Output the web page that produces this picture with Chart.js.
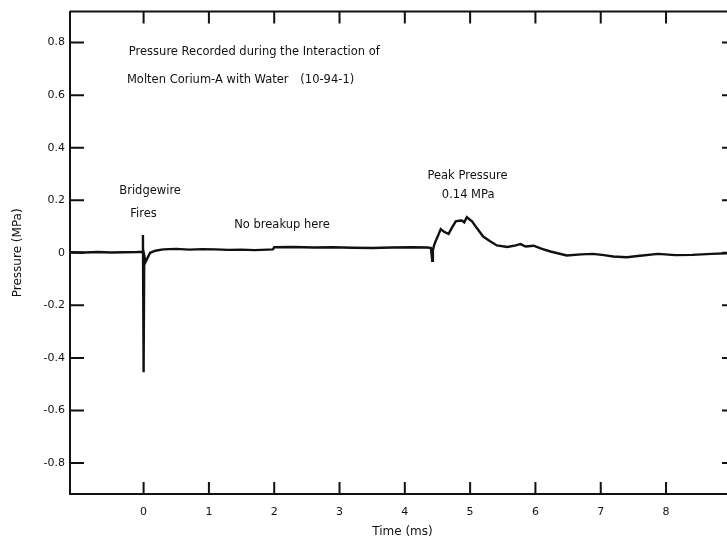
<!DOCTYPE html>
<html>
<head>
<meta charset="utf-8">
<script src="https://cdn.jsdelivr.net/npm/chart.js@4.4.1/dist/chart.umd.min.js"></script>
<style>
  html, body { margin: 0; padding: 0; background: #fff; }
  #wrap { width: 727px; height: 538px; overflow: hidden; }
</style>
</head>
<body>
<div id="wrap"><canvas id="pressureChart" width="740" height="538"></canvas></div>
<script>
/* ============================
   PRESSURE TRACE (10-94-1)
============================ */

/* ---------- DATA ---------- */

const timeMs = [
  -1.13, -0.9, -0.7, -0.5, -0.3, -0.1, -0.02, -0.01, 0.0, 0.01, 0.03, 0.06, 0.1, 0.18,
  0.3, 0.5, 0.7, 0.9, 1.1, 1.3, 1.5, 1.7, 1.9, 1.98, 2.0, 2.3, 2.6, 2.9, 3.2, 3.5,
  3.8, 4.1, 4.35, 4.4, 4.42, 4.43, 4.45, 4.47, 4.5, 4.55, 4.6, 4.67, 4.72, 4.78,
  4.85, 4.88, 4.91, 4.95, 5.0, 5.03, 5.1, 5.2, 5.3, 5.41, 5.57, 5.7, 5.77, 5.85,
  5.97, 6.1, 6.23, 6.48, 6.7, 6.88, 7.05, 7.19, 7.4, 7.6, 7.88, 8.14, 8.4, 8.7, 9.06,
];

const pressureMPa = [
  0.002, 0.001, 0.003, 0.001, 0.002, 0.003, 0.004, 0.068, -0.455, -0.01, -0.035, -0.02, 0.0, 0.008,
  0.013, 0.015, 0.012, 0.014, 0.013, 0.011, 0.012, 0.01, 0.012, 0.013, 0.021, 0.022, 0.02, 0.021, 0.019, 0.018,
  0.02, 0.021, 0.02, 0.018, -0.03, 0.01, 0.03, 0.043, 0.06, 0.09, 0.08, 0.072, 0.095, 0.12,
  0.123, 0.122, 0.116, 0.136, 0.125, 0.12, 0.095, 0.062, 0.045, 0.028, 0.022, 0.028, 0.033, 0.024,
  0.027, 0.015, 0.005, -0.01, -0.006, -0.004, -0.009, -0.014, -0.017, -0.011, -0.004, -0.009, -0.008, -0.004, -0.001,
];

const xTicks = [0, 1, 2, 3, 4, 5, 6, 7, 8];
const yTicks = [-0.8, -0.6, -0.4, -0.2, 0, 0.2, 0.4, 0.6, 0.8];

const notes = [
  { text: "Pressure Recorded during the Interaction of", x: -0.226, y: 0.763, align: "left" },
  { text: "Molten Corium-A with Water", x: -0.255, y: 0.659, align: "left" },
  { text: "(10-94-1)", x: 2.4, y: 0.659, align: "left" },
  { text: "Bridgewire", x: 0.1, y: 0.236, align: "center" },
  { text: "Fires", x: 0.0, y: 0.149, align: "center" },
  { text: "No breakup here", x: 2.12, y: 0.104, align: "center" },
  { text: "Peak Pressure", x: 4.96, y: 0.294, align: "center" },
  { text: "0.14 MPa", x: 4.97, y: 0.221, align: "center" },
];

const FONT = "'DejaVu Sans', sans-serif";
const INK = "#111";

/* ---------- FRAME, TICKS, NOTES ---------- */

const framePlugin = {
  id: "frame",
  afterDraw(chart) {
    const { ctx, chartArea: a, scales } = chart;
    const xs = scales.x;
    const ys = scales.y;
    ctx.save();
    ctx.strokeStyle = INK;
    ctx.lineWidth = 2;

    ctx.beginPath();
    ctx.moveTo(a.left, a.top);
    ctx.lineTo(a.right, a.top);
    ctx.lineTo(a.right, a.bottom);
    ctx.stroke();

    ctx.beginPath();
    xTicks.forEach((v) => {
      const px = xs.getPixelForValue(v);
      ctx.moveTo(px, a.bottom);
      ctx.lineTo(px, a.bottom - 12);
      ctx.moveTo(px, a.top);
      ctx.lineTo(px, a.top + 12);
    });
    yTicks.forEach((v) => {
      const py = ys.getPixelForValue(v);
      ctx.moveTo(a.left, py);
      ctx.lineTo(a.left + 14, py);
      ctx.moveTo(a.right, py);
      ctx.lineTo(a.right - 13, py);
    });
    ctx.stroke();

    ctx.fillStyle = INK;
    ctx.font = "11.5px " + FONT;
    ctx.textBaseline = "middle";
    notes.forEach((n) => {
      ctx.textAlign = n.align;
      ctx.fillText(n.text, xs.getPixelForValue(n.x), ys.getPixelForValue(n.y));
    });

    ctx.font = "12px " + FONT;
    ctx.textAlign = "center";
    ctx.fillText("Time (ms)", (a.left + a.right) / 2, 532);

    ctx.translate(18, ys.getPixelForValue(0));
    ctx.rotate(-Math.PI / 2);
    ctx.fillText("Pressure (MPa)", 0, 0);
    ctx.restore();
  },
};

/* ---------- CHART ---------- */

new Chart(document.getElementById("pressureChart"), {
  type: "line",
  data: {
    datasets: [
      {
        data: timeMs.map((t, i) => ({ x: t, y: pressureMPa[i] })),
        borderColor: INK,
        borderWidth: 2.4,
        pointRadius: 0,
        tension: 0,
        fill: false,
      },
    ],
  },
  options: {
    responsive: false,
    animation: false,
    layout: { padding: { top: 7, right: 5, left: 0, bottom: 0 } },
    plugins: { legend: { display: false }, tooltip: { enabled: false } },
    scales: {
      x: {
        type: "linear",
        min: -1.127,
        max: 9.056,
        afterBuildTicks: (s) => { s.ticks = xTicks.map((v) => ({ value: v })); },
        afterFit: (s) => { s.height = 44; },
        grid: { display: false, drawTicks: false },
        border: { display: true, color: INK, width: 2 },
        ticks: {
          color: INK,
          padding: 12,
          maxRotation: 0,
          font: { family: FONT, size: 11 },
          callback: (v) => String(v),
        },
      },
      y: {
        min: -0.918,
        max: 0.918,
        afterBuildTicks: (s) => { s.ticks = yTicks.map((v) => ({ value: v })); },
        afterFit: (s) => { s.width = 70; },
        grid: { display: false, drawTicks: false },
        border: { display: true, color: INK, width: 2 },
        ticks: {
          color: INK,
          padding: 5,
          font: { family: FONT, size: 11 },
          callback: (v) => (Math.abs(v) < 1e-9 ? "0" : v.toFixed(1)),
        },
      },
    },
  },
  plugins: [framePlugin],
});
</script>
</body>
</html>
